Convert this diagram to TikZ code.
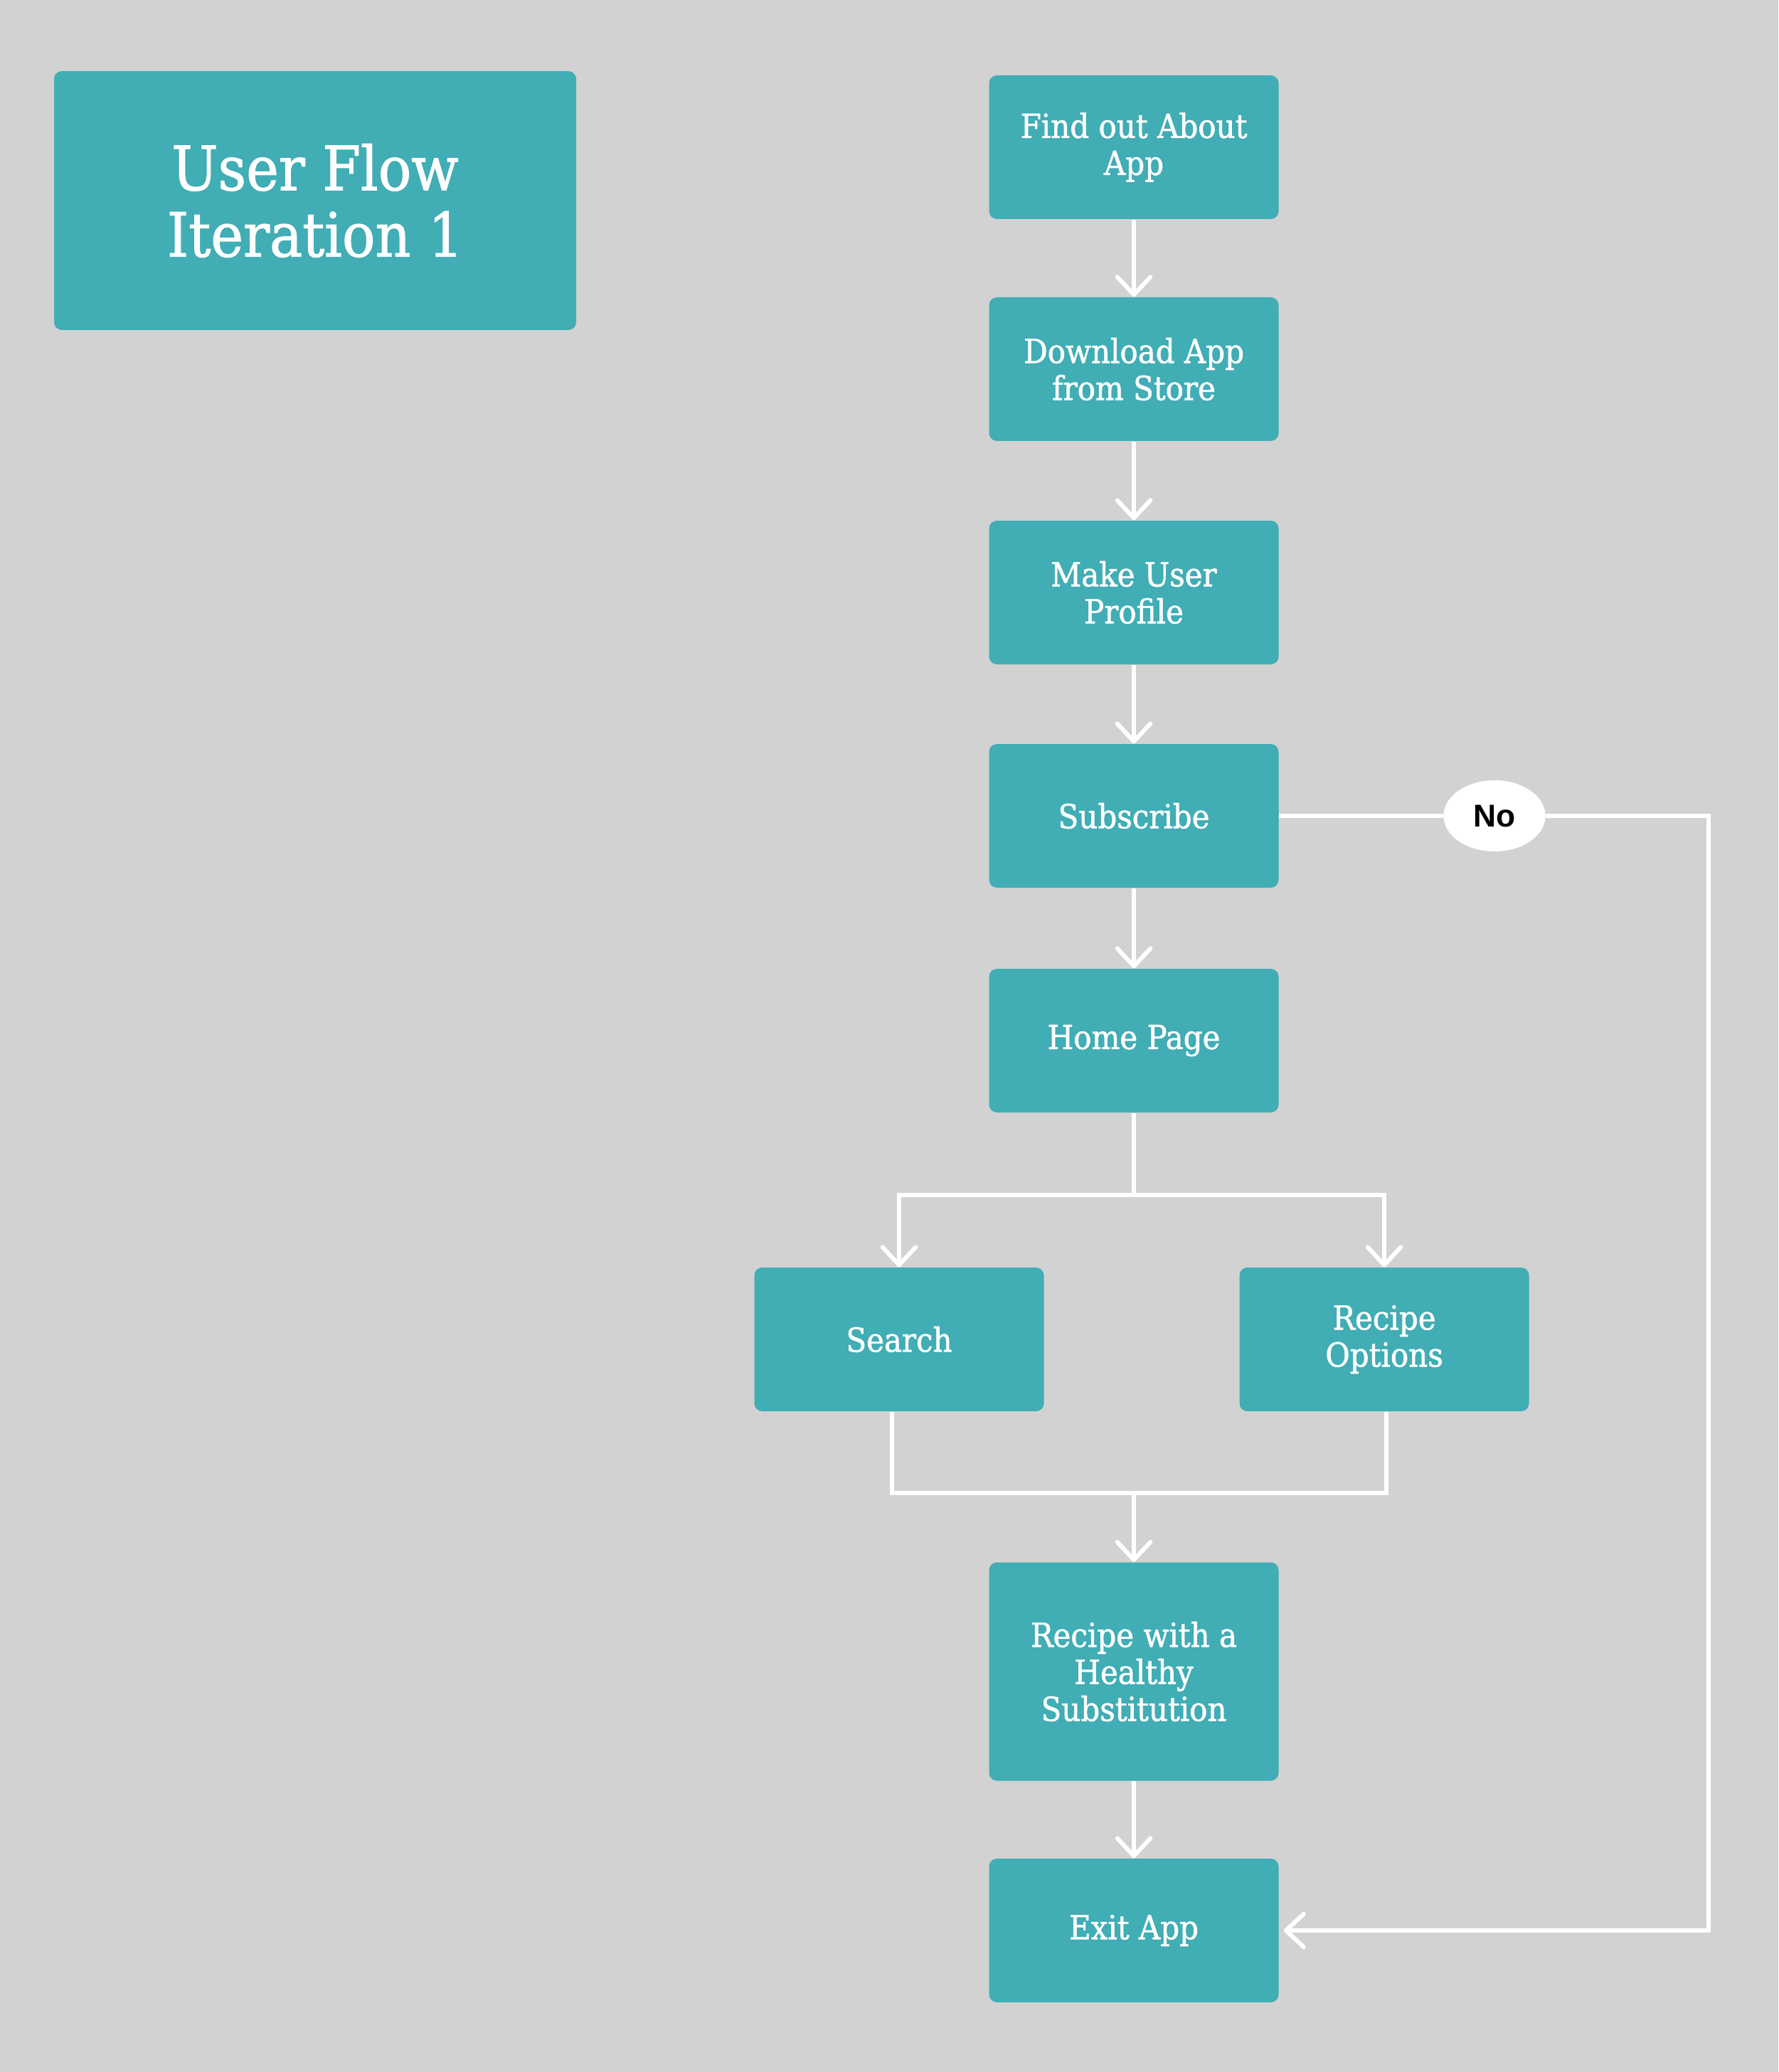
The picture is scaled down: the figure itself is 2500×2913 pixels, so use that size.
\documentclass[tikz,border=0pt]{standalone}
\usepackage{fontspec}
\setmainfont{DejaVu Serif Condensed}
\newfontfamily\boxfont{DejaVu Serif Condensed}[FakeBold=1.2]
\newfontfamily\nofont{Liberation Sans}
\usetikzlibrary{arrows.meta,shapes.geometric}
\definecolor{bgc}{HTML}{D2D2D2}
\definecolor{boxteal}{HTML}{41ADB5}
\begin{document}
\begin{tikzpicture}[x=0.3pt,y=-0.3pt,
  box/.style={draw=none, fill=boxteal, rounded corners=3.3pt, minimum width=122.1pt, minimum height=60.6pt, inner sep=0pt, align=center, text=white, font=\boxfont\fontsize{14}{15.6}\selectfont},
  flow/.style={draw=white, line width=1.8pt},
  arr/.style={flow, -{Straight Barb[length=7.5pt,width=14pt,line cap=round,line join=round]}}]
\fill[bgc] (0,0) rectangle (2500,2913);
\useasboundingbox (0,0) rectangle (2500,2913);

\node[box, minimum width=220.2pt, minimum height=109.2pt, font=\boxfont\fontsize{25.8}{28}\selectfont] (title) at (443,282) {User Flow\\Iteration 1};

\node[box] (find) at (1594,207) {Find out About\\App};
\node[box] (download) at (1594,519) {Download App\\from Store};
\node[box] (profile) at (1594,833) {Make User\\Profile};
\node[box] (subscribe) at (1594,1147) {Subscribe};
\node[box] (home) at (1594,1463) {Home Page};
\node[box] (search) at (1264,1883) {Search};
\node[box] (ropt) at (1946,1883) {Recipe\\Options};
\node[box, minimum height=92.1pt] (healthy) at (1594,2350) {Recipe with a\\Healthy\\Substitution};
\node[box] (exit) at (1594,2714) {Exit App};

\node[ellipse, fill=white, minimum width=43pt, minimum height=30pt, inner sep=0pt, font=\nofont\bfseries\fontsize{13.3}{15}\selectfont] (no) at (2101,1147) {No};

\draw[arr] (find) -- (download);
\draw[arr] (download) -- (profile);
\draw[arr] (profile) -- (subscribe);
\draw[arr] (subscribe) -- (home);

\coordinate (b) at (1594,1680);
\draw[flow] (home.south) -- (b);
\draw[arr] (b) -| (search.north);
\draw[arr] (b) -| (ropt.north);

\coordinate (m) at (1594,2099);
\draw[flow] ([xshift=-3pt]search.south) |- (m) -| ([xshift=1pt]ropt.south);
\draw[arr] (m) -- (healthy.north);
\draw[arr] (healthy) -- (exit);

\coordinate (c1) at (2402,1147);
\coordinate (c2) at (2402,2714);
\draw[flow] (subscribe.east) -- (no.west);
\draw[arr] (no.east) -- (c1) -- (c2) -- ([xshift=2pt]exit.east);
\end{tikzpicture}
\end{document}
